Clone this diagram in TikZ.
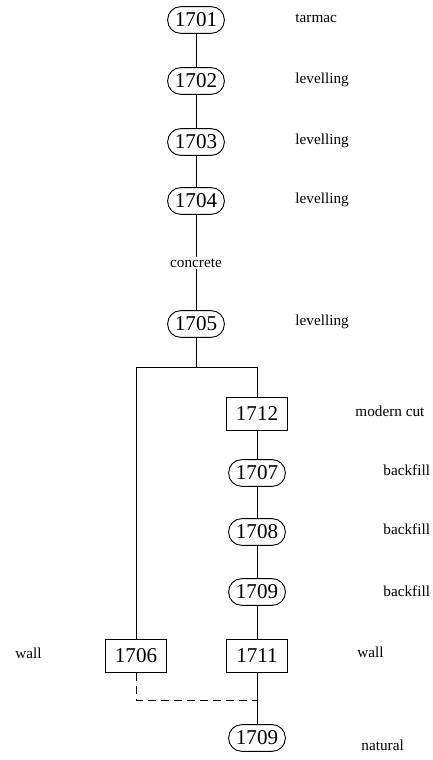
\documentclass[tikz,border=0pt]{standalone}
\usepackage{fontspec}
\setmainfont{Liberation Serif}
\begin{document}
\begin{tikzpicture}[line width=.8pt, layer node/.style={rectangle, draw, rounded corners=.39cm, minimum width=1.7cm, minimum height=.8cm, inner sep=0pt, font=\fontsize{18}{21}\selectfont}, cut box/.style={rectangle, draw, minimum width=1.83cm, minimum height=.99cm, inner sep=0pt, font=\fontsize{18}{21}\selectfont}, desc/.style={anchor=west, inner sep=0pt, font=\fontsize{13}{15}\selectfont}]
    \useasboundingbox (0,0) rectangle (12.99,-22.8);
    \node[layer node](1701) at (5.88,-0.60){1701};
    \node[layer node](1702) at (5.88,-2.43){1702};
    \node[layer node](1703) at (5.88,-4.26){1703};
    \node[layer node](1704) at (5.88,-6.03){1704};
    \node[inner sep=1pt, font=\fontsize{13}{15}\selectfont](conc) at (5.88,-7.89){concrete};
    \node[layer node](1705) at (5.88,-9.72){1705};
    \coordinate (split) at (5.88,-11.01);
    \node[cut box](1712) at (7.71,-12.42){1712};
    \node[layer node](1707) at (7.71,-14.19){1707};
    \node[layer node](1708) at (7.71,-15.96){1708};
    \node[layer node](1709) at (7.71,-17.76){1709};
    \node[cut box](1711) at (7.71,-19.68){1711};
    \node[cut box](1706) at (4.08,-19.68){1706};
    \coordinate (join) at (7.71,-21.0);
    \node[layer node](1709b) at (7.71,-22.14){1709};

    \node[desc](d1701) at (8.85,-0.54){tarmac};
    \node[desc](d1702) at (8.85,-2.40){levelling};
    \node[desc](d1703) at (8.85,-4.23){levelling};
    \node[desc](d1704) at (8.85,-6.00){levelling};
    \node[desc](d1705) at (8.85,-9.66){levelling};
    \node[desc](d1712) at (10.65,-12.33){modern cut};
    \node[desc](d1707) at (11.49,-14.10){backfill};
    \node[desc](d1708) at (11.49,-15.87){backfill};
    \node[desc](d1709) at (11.49,-17.73){backfill};
    \node[desc](d1711) at (10.71,-19.56){wall};
    \node[desc](d1706) at (0.45,-19.59){wall};
    \node[desc](d1709b) at (10.83,-22.35){natural};

\foreach \s/\t in {1701/1702, 1702/1703, 1703/1704, 1704/conc, conc/1705, 1705/split, 1712/1707, 1707/1708, 1708/1709, 1709/1711, 1711/1709b}{
    \draw (\s) -- (\t);}
\foreach \t in {1706, 1712}{
    \draw (split) -| (\t);}
\draw[dash pattern=on .24cm off .15cm] (1706) |- (join);
\end{tikzpicture}
\end{document}
